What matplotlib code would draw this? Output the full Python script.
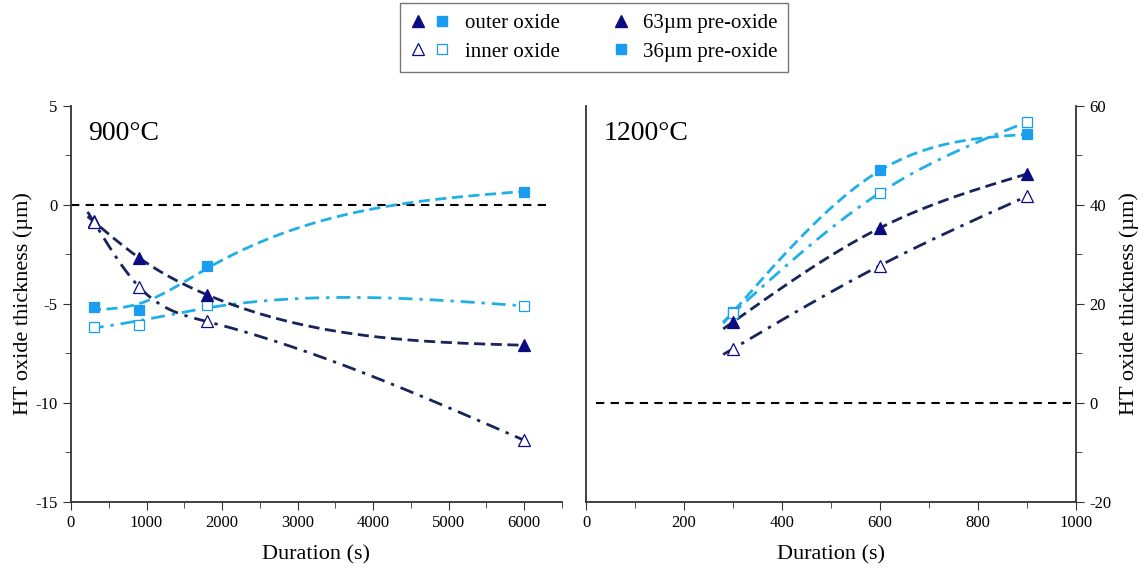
import numpy as np
import matplotlib.pyplot as plt
from matplotlib.lines import Line2D
from matplotlib.legend_handler import HandlerTuple
from matplotlib.ticker import MultipleLocator

plt.rcParams['font.family'] = ['Liberation Serif', 'DejaVu Serif']
plt.rcParams['axes.unicode_minus'] = False

# 900 C data (duration in s, thickness in um)
t_900 = [300, 900, 1800, 6000]
outer_63_900 = [-0.85, -2.68, -4.55, -7.1]
inner_63_900 = [-0.86, -4.15, -5.9, -11.9]
outer_36_900 = [-5.15, -5.3, -3.08, 0.66]
inner_36_900 = [-6.16, -6.06, -5.08, -5.13]

# 1200 C data
t_1200 = [300, 600, 900]
outer_63_1200 = [16.3, 35.3, 46.2]
inner_63_1200 = [10.9, 27.7, 41.7]
outer_36_1200 = [18.3, 46.9, 54.2]
inner_36_1200 = [18.1, 42.4, 56.7]

NAVY = '#0c0c82'
NAVY_LINE = '#18245a'
BLUE = '#1a9cf0'
BLUE_LINE = '#20b0e8'


def smooth_spline(x, y, xs, lam=0.0):
    # natural cubic smoothing spline (Reinsch); lam=0 -> interpolating spline
    x = np.asarray(x, float) / 1000.0
    y = np.asarray(y, float)
    xs = np.asarray(xs, float) / 1000.0
    n = len(x)
    h = np.diff(x)
    R = np.zeros((n - 2, n - 2))
    Q = np.zeros((n, n - 2))
    for j in range(n - 2):
        R[j, j] = (h[j] + h[j + 1]) / 3.0
        if j + 1 < n - 2:
            R[j, j + 1] = R[j + 1, j] = h[j + 1] / 6.0
        Q[j, j] = 1.0 / h[j]
        Q[j + 1, j] = -1.0 / h[j] - 1.0 / h[j + 1]
        Q[j + 2, j] = 1.0 / h[j + 1]
    gam = np.linalg.solve(R + lam * Q.T @ Q, Q.T @ y)
    f = y - lam * Q @ gam
    M = np.concatenate([[0.0], gam, [0.0]])
    i = np.clip(np.searchsorted(x, xs) - 1, 0, n - 2)
    hi = h[i]
    a = x[i + 1] - xs
    b = xs - x[i]
    return (M[i] * a**3 / (6 * hi) + M[i + 1] * b**3 / (6 * hi)
            + (f[i] / hi - M[i] * hi / 6) * a + (f[i + 1] / hi - M[i + 1] * hi / 6) * b)


def draw_series(ax, x, y, marker, filled, color, lcolor, ls, x0, x1, lam=0.0):
    xs = np.linspace(x0, x1, 300)
    ax.plot(xs, smooth_spline(x, y, xs, lam), linestyle=ls, color=lcolor, lw=2.0, zorder=2)
    ms = 9 if marker == '^' else 7.5
    ax.plot(x, y, linestyle='none', marker=marker, ms=ms,
            markerfacecolor=color if filled else 'white',
            markeredgecolor=color, markeredgewidth=0.9, zorder=3)


DASH = (0, (4, 2))
DASHDOT = (0, (5, 2.5, 1.2, 2.5))

fig = plt.figure(figsize=(11.43, 5.71), dpi=100)
ax1 = fig.add_axes([0.0621, 0.1214, 0.4296, 0.6936])
ax2 = fig.add_axes([0.5127, 0.1214, 0.4287, 0.6936])

# ---- 900 C panel
ax1.plot([0, 6350], [0, 0], color='black', ls=(0, (4, 3)), lw=1.5, zorder=1)
draw_series(ax1, t_900, outer_36_900, 's', True, BLUE, BLUE_LINE, DASH, 250, 6000, lam=0.03)
draw_series(ax1, t_900, inner_36_900, 's', False, BLUE, BLUE_LINE, DASHDOT, 250, 6000, lam=0.15)
draw_series(ax1, t_900, outer_63_900, '^', True, NAVY, NAVY_LINE, DASH, 220, 6000)
draw_series(ax1, t_900, inner_63_900, '^', False, NAVY, NAVY_LINE, DASHDOT, 220, 6000)

ax1.set_xlim(0, 6500)
ax1.set_ylim(-15, 5)
ax1.xaxis.set_major_locator(MultipleLocator(1000))
ax1.xaxis.set_minor_locator(MultipleLocator(500))
ax1.yaxis.set_major_locator(MultipleLocator(5))
ax1.yaxis.set_minor_locator(MultipleLocator(2.5))
for s in ['top', 'right']:
    ax1.spines[s].set_visible(False)
ax1.set_xlabel('Duration (s)', fontsize=16, labelpad=10)
ax1.set_ylabel('HT oxide thickness (µm)', fontsize=16, labelpad=2)
ax1.text(0.035, 0.96, '900°C', transform=ax1.transAxes, fontsize=20, va='top', ha='left')

# ---- 1200 C panel
ax2.plot([20, 1000], [0, 0], color='black', ls=(0, (4, 3)), lw=1.5, zorder=1)
draw_series(ax2, t_1200, outer_36_1200, 's', True, BLUE, BLUE_LINE, DASH, 280, 900)
draw_series(ax2, t_1200, inner_36_1200, 's', False, BLUE, BLUE_LINE, DASHDOT, 280, 900)
draw_series(ax2, t_1200, outer_63_1200, '^', True, NAVY, NAVY_LINE, DASH, 280, 900)
draw_series(ax2, t_1200, inner_63_1200, '^', False, NAVY, NAVY_LINE, DASHDOT, 280, 900)

ax2.set_xlim(0, 1000)
ax2.set_ylim(-20, 60)
ax2.xaxis.set_major_locator(MultipleLocator(200))
ax2.xaxis.set_minor_locator(MultipleLocator(100))
ax2.yaxis.set_major_locator(MultipleLocator(20))
ax2.yaxis.set_minor_locator(MultipleLocator(10))
ax2.yaxis.tick_right()
ax2.yaxis.set_label_position('right')
ax2.spines['top'].set_visible(False)
ax2.set_xlabel('Duration (s)', fontsize=16, labelpad=10)
ax2.set_ylabel('HT oxide thickness (µm)', fontsize=16, labelpad=6, rotation=90)
ax2.text(0.035, 0.96, '1200°C', transform=ax2.transAxes, fontsize=20, va='top', ha='left')

for ax in (ax1, ax2):
    ax.tick_params(which='both', direction='out', labelsize=12, color='#333333')
    ax.tick_params(which='major', length=6)
    ax.tick_params(which='minor', length=4)
    for s in ax.spines.values():
        s.set_color('#333333')
        s.set_linewidth(1.3)

# ---- legend
blank = Line2D([], [], ls='none', marker='none')
tri_f = Line2D([], [], ls='none', marker='^', ms=9, color=NAVY)
tri_o = Line2D([], [], ls='none', marker='^', ms=9, markerfacecolor='white',
               markeredgecolor=NAVY, markeredgewidth=0.9)
sq_f = Line2D([], [], ls='none', marker='s', ms=7.5, color=BLUE)
sq_o = Line2D([], [], ls='none', marker='s', ms=7.5, markerfacecolor='white',
              markeredgecolor=BLUE, markeredgewidth=0.9)
handles = [(tri_f, sq_f), (tri_o, sq_o), (blank, tri_f), (blank, sq_f)]
labels = ['outer oxide', 'inner oxide', '63µm pre-oxide', '36µm pre-oxide']
leg = fig.legend(handles, labels, ncol=2, loc='upper center', bbox_to_anchor=(0.5197, 0.994),
                 fontsize=15, frameon=True, fancybox=False, edgecolor='#555555',
                 handler_map={tuple: HandlerTuple(ndivide=None, pad=0.4)},
                 handlelength=1.9, handletextpad=0.7, columnspacing=1.4,
                 borderpad=0.5, labelspacing=0.42, borderaxespad=0)
leg.get_frame().set_linewidth(1.0)

fig.savefig('out.png', dpi=100)
